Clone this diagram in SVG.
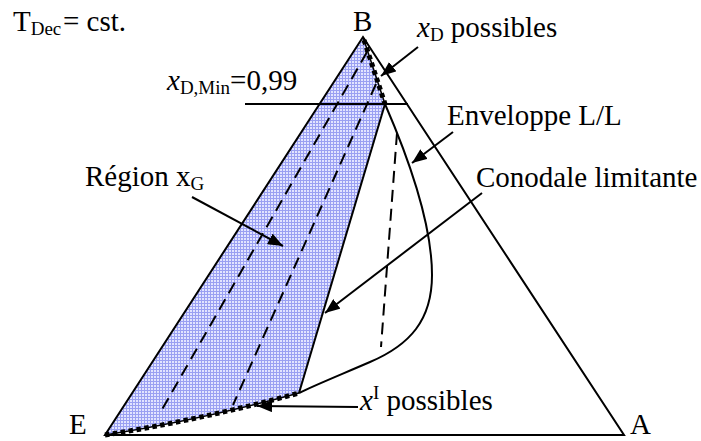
<svg xmlns="http://www.w3.org/2000/svg" width="701" height="441" viewBox="0 0 701 441">
<style>
  text { font-family: "Liberation Serif", "Times New Roman", serif; font-size: 29px; fill: #000; }
  .sub { font-size: 19px; }
  .it { font-style: italic; }
  .ln { fill: none; stroke: #000; stroke-width: 2; }
  .dash { fill: none; stroke: #000; stroke-width: 2; stroke-dasharray: 12 7; }
  .dotbase { fill: none; stroke: #000; stroke-width: 1.5; }
  .dots { fill: none; stroke: #000; stroke-width: 5; stroke-dasharray: 4.5 3.5; }
  .arrow { fill: none; stroke: #000; stroke-width: 2; marker-end: url(#ah); }
</style>
<defs>
  <pattern id="hatch" width="3" height="3" patternUnits="userSpaceOnUse">
    <rect width="3" height="3" fill="#e2e4ff"/>
    <rect width="3" height="1" fill="#9aa0f2"/>
    <rect width="1" height="3" fill="#9aa0f2"/>
  </pattern>
  <marker id="ah" markerUnits="userSpaceOnUse" markerWidth="16" markerHeight="12" refX="15" refY="6" orient="auto">
    <path d="M0,0 L15,6 L0,12 Z" fill="#000"/>
  </marker>
</defs>

<g id="region-xG">
  <path d="M363,37 L385,104 L299,393 Q200,420 105,435 Z" fill="url(#hatch)" stroke="none"/>
  <line class="ln" x1="385" y1="104" x2="299" y2="393"/>
  <line class="dash" x1="367" y1="52" x2="160" y2="413"/>
  <line class="dash" x1="376" y1="84" x2="233" y2="405"/>
</g>

<g id="triangle">
  <path class="ln" d="M105,435 L363,37 L624,435 Z"/>
</g>

<g id="xDmin-line">
  <line class="ln" x1="245" y1="104" x2="408" y2="104"/>
</g>

<g id="envelope">
  <path class="ln" d="M385,104 C405,150 432,220 432,275 C432,320 410,345 370,362 C340,375 315,385 299,393"/>
  <line class="dash" x1="397" y1="133" x2="381" y2="347"/>
</g>

<g id="xD-possibles-line">
  <line class="dotbase" x1="363" y1="37" x2="385" y2="104"/>
  <line class="dots" x1="364" y1="40" x2="385" y2="104"/>
</g>

<g id="xI-possibles-line">
  <path class="dotbase" d="M105,435 Q200,420 299,393"/>
  <path class="dots" d="M105,435 Q200,420 299,393"/>
</g>

<g id="connectors">
  <line class="arrow" x1="418" y1="47" x2="381" y2="76"/>
  <line class="arrow" x1="453" y1="132" x2="412" y2="163"/>
  <line class="arrow" x1="482" y1="193" x2="325" y2="313"/>
  <line class="arrow" x1="192" y1="197" x2="283" y2="246"/>
  <line class="arrow" x1="358" y1="407" x2="257" y2="406"/>
</g>

<g id="label-B"><text x="353" y="31">B</text></g>
<g id="label-E"><text x="69" y="434">E</text></g>
<g id="label-A"><text x="630" y="434">A</text></g>

<g id="label-Tdec">
  <text x="13" y="31">T<tspan class="sub" dy="4">Dec</tspan><tspan x="63" dy="-4">= cst.</tspan></text>
</g>
<g id="label-xDmin">
  <text x="167" y="90"><tspan class="it">x</tspan><tspan class="sub" dy="4">D,Min</tspan><tspan dy="-4">=0,99</tspan></text>
</g>
<g id="label-xD-possibles">
  <text x="417" y="37"><tspan class="it">x</tspan><tspan class="sub" dy="4">D</tspan><tspan dy="-4"> possibles</tspan></text>
</g>
<g id="label-enveloppe">
  <text x="447" y="125">Enveloppe L/L</text>
</g>
<g id="label-conodale">
  <text x="476" y="187">Conodale limitante</text>
</g>
<g id="label-region">
  <text x="85" y="186">Région x<tspan class="sub" dy="4">G</tspan></text>
</g>
<g id="label-xI-possibles">
  <text x="360" y="410"><tspan class="it">x</tspan><tspan class="sub" dy="-11">I</tspan><tspan dy="11"> possibles</tspan></text>
</g>
</svg>
